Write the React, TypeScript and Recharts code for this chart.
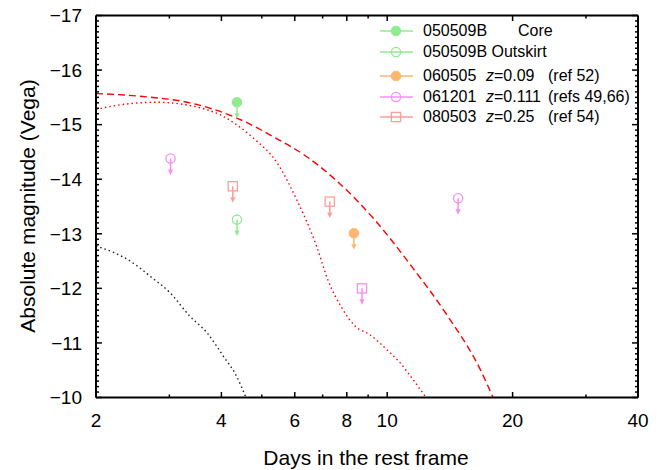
import React from "react";
import { ComposedChart, Legend, Line, Scatter, XAxis, YAxis, Label } from "recharts";

const FONT = '"Liberation Sans", Arial, Helvetica, sans-serif';

// axis ticks
const xMajorTicks = [2, 4, 6, 8, 10, 20, 40];
const xMinorTicks = [3, 5, 7, 9, 30];

// model curves
const dashedX = [2.0, 2.55, 3.36, 4.36, 5.44, 6.28, 7.49, 9.25, 11.53, 13.92, 16.71, 17.95];
const dashedY = [-15.57, -15.52, -15.4, -15.12, -14.74, -14.46, -14.0, -13.29, -12.37, -11.51, -10.52, -10.0];
const redDotX = [2.0, 2.32, 2.8, 3.36, 4.04, 4.76, 5.43, 6.06, 6.77, 7.2, 7.83, 8.37, 9.09, 9.97, 10.73, 11.53, 12.39];
const redDotY = [-15.28, -15.37, -15.41, -15.35, -15.15, -14.76, -14.31, -13.63, -12.77, -12.16, -11.61, -11.31, -11.15, -10.88, -10.64, -10.33, -10.0];
const blackDotX = [2.0, 2.45, 2.7, 3.01, 3.36, 3.69, 4.04, 4.35, 4.58];
const blackDotY = [-12.78, -12.47, -12.22, -11.92, -11.49, -11.19, -10.76, -10.39, -10.0];

// upper limits
const coreX = [4.36];
const coreY = [-15.41];
const outskirtX = [4.36];
const outskirtY = [-13.26];
const grb060505X = [8.32];
const grb060505Y = [-13.01];
const grb061201X = [3.02, 14.8];
const grb061201Y = [-14.38, -13.65];
const grb061201SqX = [8.7];
const grb061201SqY = [-12.0];
const grb080503X = [4.26, 7.28];
const grb080503Y = [-13.87, -13.59];

const GREEN = "#8eec8e";
const ORANGE = "#ffb670";
const MAGENTA = "#f78ef7";
const SALMON = "#ff9c9c";

const zip = (xs: number[], ys: number[]) => xs.map((x, i) => ({ x, y: ys[i] }));

const xTicks = [...xMajorTicks, ...xMinorTicks].sort((a, b) => a - b);
const yTicks: number[] = [];
for (let i = 0; i <= 70; i++) yTicks.push(Math.round((-17 + i * 0.1) * 10) / 10);

type Kind = "filled" | "open" | "square";

function Marker({ cx, cy, color, kind }: { cx: number; cy: number; color: string; kind: Kind }) {
  if (kind === "filled") return <circle cx={cx} cy={cy} r={4.8} fill={color} stroke={color} />;
  if (kind === "open") return <circle cx={cx} cy={cy} r={4.6} fill="none" stroke={color} strokeWidth={1.3} />;
  return <rect x={cx - 4.6} y={cy - 4.6} width={9.2} height={9.2} fill="none" stroke={color} strokeWidth={1.3} />;
}

const limitShape = (color: string, kind: Kind) => (props: any) => {
  const { cx, cy } = props;
  return (
    <g>
      <line x1={cx} y1={cy} x2={cx} y2={cy + 12} stroke={color} strokeWidth={1.5} />
      <path d={`M${cx - 2.6},${cy + 11} L${cx + 2.6},${cy + 11} L${cx},${cy + 16.5} Z`} fill={color} />
      <Marker cx={cx} cy={cy} color={color} kind={kind} />
    </g>
  );
};

const tickStroke = { stroke: "#000", strokeWidth: 1.5 };
const axisLine = { stroke: "#000", strokeWidth: 2 };

function BottomTick(props: any) {
  const { x, y, payload } = props;
  const major = xMajorTicks.includes(payload.value);
  return (
    <g>
      <line x1={x} y1={y} x2={x} y2={y - (major ? 5.5 : 3)} {...tickStroke} />
      {major && (
        <text x={x} y={y + 29.5} textAnchor="middle" fontSize={19} fontFamily={FONT} fill="#000">
          {payload.value}
        </text>
      )}
    </g>
  );
}

function TopTick(props: any) {
  const { x, y, payload } = props;
  const major = xMajorTicks.includes(payload.value);
  return <line x1={x} y1={y} x2={x} y2={y + (major ? 5.5 : 3)} {...tickStroke} />;
}

function LeftTick(props: any) {
  const { x, y, payload } = props;
  const major = Number.isInteger(payload.value);
  return (
    <g>
      <line x1={x} y1={y} x2={x + (major ? 6 : 3)} y2={y} {...tickStroke} />
      {major && (
        <text x={x - 14} y={y} dy="0.36em" textAnchor="end" fontSize={19} fontFamily={FONT} fill="#000">
          {"\u2212" + Math.abs(payload.value)}
        </text>
      )}
    </g>
  );
}

function RightTick(props: any) {
  const { x, y, payload } = props;
  const major = Number.isInteger(payload.value);
  return <line x1={x} y1={y} x2={x - (major ? 6 : 3)} y2={y} {...tickStroke} />;
}

const legendRows = [
  { top: 11, color: GREEN, kind: "filled" as Kind, id: "050509B", z: "", ref: "", extra: "Core" },
  { top: 31.5, color: GREEN, kind: "open" as Kind, id: "050509B Outskirt", z: "", ref: "", extra: "" },
  { top: 56, color: ORANGE, kind: "filled" as Kind, id: "060505", z: "0.09", ref: "(ref 52)", extra: "" },
  { top: 76.5, color: MAGENTA, kind: "open" as Kind, id: "061201", z: "0.111", ref: "(refs 49,66)", extra: "" },
  { top: 96.5, color: SALMON, kind: "square" as Kind, id: "080503", z: "0.25", ref: "(ref 54)", extra: "" },
];

function LegendBox() {
  const txt: React.CSSProperties = {
    position: "absolute",
    fontFamily: FONT,
    fontSize: 16,
    lineHeight: "16px",
    color: "#000",
    whiteSpace: "nowrap",
  };
  return (
    <div style={{ position: "relative", width: 260, height: 110 }}>
      {legendRows.map((r) => (
        <div key={r.id + r.top} style={{ position: "absolute", left: 0, top: r.top - 8, height: 16, width: 260 }}>
          <svg width={40} height={16} style={{ position: "absolute", left: 0, top: 0 }}>
            <line x1={2} y1={8} x2={35} y2={8} stroke={r.color} strokeWidth={1.3} />
            <Marker cx={18} cy={8} color={r.color} kind={r.kind} />
          </svg>
          <span style={{ ...txt, left: 45, top: 0 }}>{r.id}</span>
          {r.extra && <span style={{ ...txt, left: 140, top: 0 }}>{r.extra}</span>}
          {r.z && (
            <span style={{ ...txt, left: 108, top: 0 }}>
              <i>z</i>={r.z}
            </span>
          )}
          {r.ref && <span style={{ ...txt, left: 170, top: 0 }}>{r.ref}</span>}
        </div>
      ))}
    </div>
  );
}

export default function App() {
  return (
    <div style={{ position: "absolute", left: 0, top: 0, background: "#fff" }}>
      <ComposedChart
        width={667}
        height={470}
        margin={{ top: 14.5, right: 28, bottom: 42.5, left: 56 }}
      >
        <XAxis
          xAxisId={0}
          dataKey="x"
          type="number"
          scale="log"
          domain={[2, 40]}
          allowDataOverflow
          ticks={xTicks}
          interval={0}
          height={30}
          tickSize={0}
          tickMargin={0}
          tick={BottomTick}
          axisLine={axisLine}
        >
          <Label
            content={() => (
              <text x={366} y={465} textAnchor="middle" fontSize={21} fontFamily={FONT} fill="#000">
                Days in the rest frame
              </text>
            )}
          />
        </XAxis>
        <XAxis
          xAxisId="top"
          orientation="top"
          dataKey="x"
          type="number"
          scale="log"
          domain={[2, 40]}
          allowDataOverflow
          ticks={xTicks}
          interval={0}
          height={1}
          tickSize={0}
          tickMargin={0}
          tick={TopTick}
          axisLine={axisLine}
        />
        <YAxis
          yAxisId={0}
          type="number"
          domain={[-17, -10]}
          reversed
          allowDataOverflow
          ticks={yTicks}
          interval={0}
          width={40}
          tickSize={0}
          tickMargin={0}
          tick={LeftTick}
          axisLine={axisLine}
        >
          <Label
            content={() => (
              <text
                x={35}
                y={206}
                transform="rotate(-90, 35, 206)"
                textAnchor="middle"
                fontSize={21}
                fontFamily={FONT}
                fill="#000"
              >
                Absolute magnitude (Vega)
              </text>
            )}
          />
        </YAxis>
        <YAxis
          yAxisId="right"
          orientation="right"
          type="number"
          domain={[-17, -10]}
          reversed
          allowDataOverflow
          ticks={yTicks}
          interval={0}
          width={1}
          tickSize={0}
          tickMargin={0}
          tick={RightTick}
          axisLine={axisLine}
        />
        <Legend
          layout="vertical"
          align="center"
          verticalAlign="middle"
          content={() => <LegendBox />}
          wrapperStyle={{ left: 378, top: 20, width: 260, height: 110 }}
        />
        <Line
          data={zip(dashedX, dashedY)}
          dataKey="y"
          type="monotone"
          stroke="#ff0000"
          strokeWidth={1.4}
          strokeDasharray="7 4"
          dot={false}
          activeDot={false}
          isAnimationActive={false}
        />
        <Line
          data={zip(redDotX, redDotY)}
          dataKey="y"
          type="monotone"
          stroke="#ff0000"
          strokeWidth={1.4}
          strokeDasharray="1.5 3"
          dot={false}
          activeDot={false}
          isAnimationActive={false}
        />
        <Line
          data={zip(blackDotX, blackDotY)}
          dataKey="y"
          type="monotone"
          stroke="#222"
          strokeWidth={1.4}
          strokeDasharray="1.5 3"
          dot={false}
          activeDot={false}
          isAnimationActive={false}
        />
        <Scatter data={zip(coreX, coreY)} dataKey="y" shape={limitShape(GREEN, "filled")} isAnimationActive={false} />
        <Scatter data={zip(outskirtX, outskirtY)} dataKey="y" shape={limitShape(GREEN, "open")} isAnimationActive={false} />
        <Scatter data={zip(grb060505X, grb060505Y)} dataKey="y" shape={limitShape(ORANGE, "filled")} isAnimationActive={false} />
        <Scatter data={zip(grb061201X, grb061201Y)} dataKey="y" shape={limitShape(MAGENTA, "open")} isAnimationActive={false} />
        <Scatter data={zip(grb061201SqX, grb061201SqY)} dataKey="y" shape={limitShape(MAGENTA, "square")} isAnimationActive={false} />
        <Scatter data={zip(grb080503X, grb080503Y)} dataKey="y" shape={limitShape(SALMON, "square")} isAnimationActive={false} />
      </ComposedChart>
    </div>
  );
}
